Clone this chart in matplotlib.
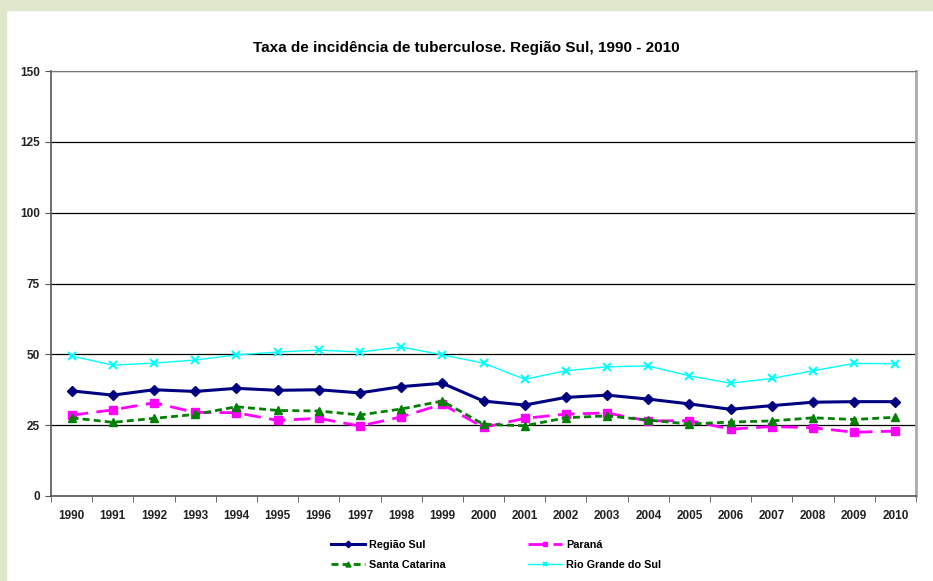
import numpy as np
import matplotlib.pyplot as plt
from matplotlib.patches import Rectangle

plt.rcParams['font.family'] = ['Liberation Sans', 'DejaVu Sans']

anos = list(range(1990, 2011))
regiao_sul = [37.1, 35.6, 37.5, 36.9, 38.0, 37.3, 37.5, 36.4, 38.6, 39.8, 33.5,
              32.1, 34.8, 35.6, 34.2, 32.5, 30.6, 31.9, 33.1, 33.3, 33.3]
parana = [28.5, 30.4, 32.9, 29.5, 29.4, 26.7, 27.4, 24.7, 27.9, 32.4, 24.2,
          27.4, 28.9, 29.3, 26.5, 26.6, 23.6, 24.5, 24.1, 22.5, 22.9]
santa_catarina = [27.6, 26.0, 27.4, 28.8, 31.5, 30.2, 30.0, 28.6, 30.7, 33.5, 25.3,
                  24.8, 27.6, 28.3, 26.8, 25.4, 26.1, 26.5, 27.6, 27.0, 27.8]
rio_grande = [49.4, 46.2, 46.9, 48.0, 49.8, 50.8, 51.5, 50.8, 52.6, 49.8, 46.9,
              41.2, 44.2, 45.6, 45.9, 42.4, 39.8, 41.5, 44.2, 46.8, 46.7]

fig = plt.figure(figsize=(9.33, 5.81), dpi=100)
fig.patch.set_facecolor('white')
# faixa verde do slide
fig.patches.append(Rectangle((0, 1 - 10 / 581), 1, 10 / 581, transform=fig.transFigure,
                             color='#dfe8cd', zorder=0))
fig.patches.append(Rectangle((0, 0), 6 / 933, 1, transform=fig.transFigure,
                             color='#dfe8cd', zorder=0))

ax = fig.add_axes([51 / 933, 85 / 581, 865 / 933, 425 / 581])

l1, = ax.plot(anos, regiao_sul, color='#000080', lw=2.2, marker='D', ms=5.5, label='Região Sul')
l2, = ax.plot(anos, parana, color='#ff00ff', lw=2, ls=(0, (6, 3)), marker='s', ms=6, label='Paraná')
l3, = ax.plot(anos, santa_catarina, color='#008000', lw=2, ls=(0, (2.5, 1.5)), marker='^', ms=6,
              label='Santa Catarina')
l4, = ax.plot(anos, rio_grande, color='#00ffff', lw=1, marker='x', ms=6, mew=1.5,
              label='Rio Grande do Sul')

ax.set_xlim(1989.5, 2010.5)
ax.set_ylim(0, 150)
ax.set_yticks(np.arange(0, 151, 25))
ax.yaxis.grid(True, color='black', lw=0.9)
ax.set_axisbelow(True)

ax.set_xticks(anos)
ax.set_xticks(np.arange(1989.5, 2011, 1), minor=True)
ax.tick_params(axis='x', which='major', length=0, pad=10)
ax.tick_params(axis='x', which='minor', length=4, color='#555555')
ax.tick_params(axis='y', length=4, color='#555555', pad=4)
for lab in ax.get_xticklabels() + ax.get_yticklabels():
    lab.set_fontweight('bold')
    lab.set_fontsize(8.5)
    lab.set_color('#222222')

for s in ['left', 'bottom']:
    ax.spines[s].set_color('#555555')
    ax.spines[s].set_linewidth(1.2)
ax.spines['top'].set_color('#777777')
ax.spines['right'].set_color('#aaaaaa')
ax.spines['right'].set_linewidth(2)

fig.text(0.5, 1 - 48 / 581, 'Taxa de incidência de tuberculose. Região Sul, 1990 - 2010',
         ha='center', va='center', fontsize=11, fontweight='bold')

leg = fig.legend([l1, l3, l2, l4], ['Região Sul', 'Santa Catarina', 'Paraná', 'Rio Grande do Sul'],
                 ncol=2, loc='center', bbox_to_anchor=(0.532, 1 - 555 / 581), frameon=False,
                 prop={'weight': 'bold', 'size': 7.8}, columnspacing=7.6, handlelength=3.1,
                 markerscale=0.6, labelspacing=0.9, handletextpad=0.4)

fig.savefig('out.png', dpi=100, facecolor=fig.get_facecolor())
